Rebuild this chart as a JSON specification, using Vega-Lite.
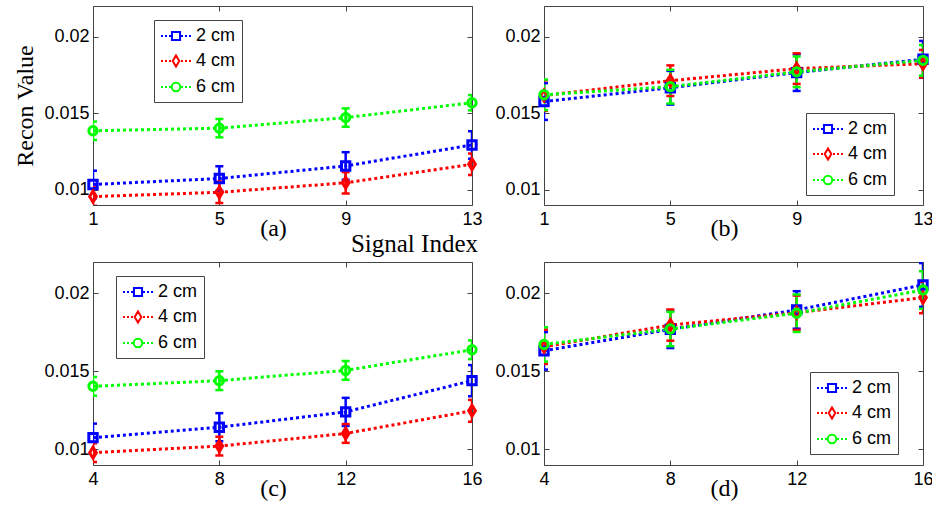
{
  "$schema": "https://vega.github.io/schema/vega-lite/v6.json",
  "padding": {"left": 13, "top": 5, "right": 0, "bottom": 0},
  "background": "white",
  "datasets": {
    "a": [
      {"x": 1, "series": "2 cm", "y": 0.01034, "lo": 0.00944, "hi": 0.01124},
      {"x": 5, "series": "2 cm", "y": 0.01073, "lo": 0.00993, "hi": 0.01153},
      {"x": 9, "series": "2 cm", "y": 0.01155, "lo": 0.01065, "hi": 0.01245},
      {"x": 13, "series": "2 cm", "y": 0.01292, "lo": 0.01202, "hi": 0.01382},
      {"x": 1, "series": "4 cm", "y": 0.00955, "lo": 0.00895, "hi": 0.01015},
      {"x": 5, "series": "4 cm", "y": 0.00983, "lo": 0.00913, "hi": 0.01053},
      {"x": 9, "series": "4 cm", "y": 0.01045, "lo": 0.00975, "hi": 0.01115},
      {"x": 13, "series": "4 cm", "y": 0.01166, "lo": 0.01096, "hi": 0.01236},
      {"x": 1, "series": "6 cm", "y": 0.01385, "lo": 0.01325, "hi": 0.01445},
      {"x": 5, "series": "6 cm", "y": 0.01402, "lo": 0.01342, "hi": 0.01462},
      {"x": 9, "series": "6 cm", "y": 0.01471, "lo": 0.01411, "hi": 0.01531},
      {"x": 13, "series": "6 cm", "y": 0.01568, "lo": 0.01518, "hi": 0.01618}
    ],
    "b": [
      {"x": 1, "series": "2 cm", "y": 0.01576, "lo": 0.01456, "hi": 0.01696},
      {"x": 5, "series": "2 cm", "y": 0.01666, "lo": 0.01556, "hi": 0.01776},
      {"x": 9, "series": "2 cm", "y": 0.01765, "lo": 0.01645, "hi": 0.01885},
      {"x": 13, "series": "2 cm", "y": 0.01852, "lo": 0.01732, "hi": 0.01972},
      {"x": 1, "series": "4 cm", "y": 0.01615, "lo": 0.01515, "hi": 0.01715},
      {"x": 5, "series": "4 cm", "y": 0.01712, "lo": 0.01612, "hi": 0.01812},
      {"x": 9, "series": "4 cm", "y": 0.01791, "lo": 0.01691, "hi": 0.01891},
      {"x": 13, "series": "4 cm", "y": 0.01823, "lo": 0.01733, "hi": 0.01913},
      {"x": 1, "series": "6 cm", "y": 0.0162, "lo": 0.0152, "hi": 0.0172},
      {"x": 5, "series": "6 cm", "y": 0.01673, "lo": 0.01563, "hi": 0.01783},
      {"x": 9, "series": "6 cm", "y": 0.0177, "lo": 0.0167, "hi": 0.0187},
      {"x": 13, "series": "6 cm", "y": 0.01845, "lo": 0.01745, "hi": 0.01945}
    ],
    "c": [
      {"x": 4, "series": "2 cm", "y": 0.01075, "lo": 0.00985, "hi": 0.01165},
      {"x": 8, "series": "2 cm", "y": 0.01142, "lo": 0.01052, "hi": 0.01232},
      {"x": 12, "series": "2 cm", "y": 0.0124, "lo": 0.0115, "hi": 0.0133},
      {"x": 16, "series": "2 cm", "y": 0.0144, "lo": 0.0134, "hi": 0.0154},
      {"x": 4, "series": "4 cm", "y": 0.00979, "lo": 0.00919, "hi": 0.01039},
      {"x": 8, "series": "4 cm", "y": 0.01021, "lo": 0.00961, "hi": 0.01081},
      {"x": 12, "series": "4 cm", "y": 0.01102, "lo": 0.01042, "hi": 0.01162},
      {"x": 16, "series": "4 cm", "y": 0.01247, "lo": 0.01177, "hi": 0.01317},
      {"x": 4, "series": "6 cm", "y": 0.01404, "lo": 0.01344, "hi": 0.01464},
      {"x": 8, "series": "6 cm", "y": 0.0144, "lo": 0.0138, "hi": 0.015},
      {"x": 12, "series": "6 cm", "y": 0.01506, "lo": 0.01446, "hi": 0.01566},
      {"x": 16, "series": "6 cm", "y": 0.01638, "lo": 0.01578, "hi": 0.01698}
    ],
    "d": [
      {"x": 4, "series": "2 cm", "y": 0.01631, "lo": 0.01511, "hi": 0.01751},
      {"x": 8, "series": "2 cm", "y": 0.01769, "lo": 0.01649, "hi": 0.01889},
      {"x": 12, "series": "2 cm", "y": 0.01893, "lo": 0.01773, "hi": 0.02013},
      {"x": 16, "series": "2 cm", "y": 0.02053, "lo": 0.01913, "hi": 0.02193},
      {"x": 4, "series": "4 cm", "y": 0.01657, "lo": 0.01547, "hi": 0.01767},
      {"x": 8, "series": "4 cm", "y": 0.01796, "lo": 0.01696, "hi": 0.01896},
      {"x": 12, "series": "4 cm", "y": 0.01875, "lo": 0.01765, "hi": 0.01985},
      {"x": 16, "series": "4 cm", "y": 0.01972, "lo": 0.01872, "hi": 0.02072},
      {"x": 4, "series": "6 cm", "y": 0.01672, "lo": 0.01562, "hi": 0.01782},
      {"x": 8, "series": "6 cm", "y": 0.01771, "lo": 0.01661, "hi": 0.01881},
      {"x": 12, "series": "6 cm", "y": 0.01872, "lo": 0.01752, "hi": 0.01992},
      {"x": 16, "series": "6 cm", "y": 0.02021, "lo": 0.01901, "hi": 0.02141}
    ]
  },
  "columns": 2,
  "bounds": "flush",
  "spacing": {"row": 57, "column": 72},
  "resolve": {"scale": {"color": "independent", "x": "independent", "y": "independent"}, "legend": {"color": "independent"}},
  "concat": [
    {
      "width": 379, "height": 199,
      "data": {"name": "a"},
      "title": {"text": "Signal Index", "orient": "bottom", "anchor": "end", "frame": "group", "font": "Liberation Serif", "fontSize": 25, "fontWeight": "normal", "color": "#000", "offset": -8, "dx": 6},
      "resolve": {"axis": {"x": "independent", "y": "independent"}},
      "encoding": {
        "x": {"field": "x", "type": "quantitative", "scale": {"domain": [1, 13], "nice": false, "zero": false}, "axis": null},
        "y": {"field": "y", "type": "quantitative", "scale": {"domain": [0.009, 0.022], "nice": false, "zero": false}, "axis": null},
        "color": {"field": "series", "type": "nominal", "scale": {"domain": ["2 cm", "4 cm", "6 cm"], "range": ["#0000ff", "#ff0000", "#00ff00"]},
          "legend": {"legendX": 61, "legendY": 14, "title": null,
            "encode": {"symbols": {"update": {
              "shape": {"signal": "datum.value === '2 cm' ? 'M-1.667,0H-1.444M-1.222,0H-1M-0.778,0H-0.556M0.556,0H0.778M1,0H1.222M1.444,0H1.667M-0.45,-0.45H0.45V0.45H-0.45Z' : datum.value === '4 cm' ? 'M-1.667,0H-1.444M-1.222,0H-1M-0.778,0H-0.556M0.556,0H0.778M1,0H1.222M1.444,0H1.667M0,-0.62L0.37,0L0,0.62L-0.37,0Z' : 'M-1.667,0H-1.444M-1.222,0H-1M-0.778,0H-0.556M0.556,0H0.778M1,0H1.222M1.444,0H1.667M0.47,0A0.47,0.47,0,1,1,-0.47,0A0.47,0.47,0,1,1,0.47,0Z'"},
              "fill": {"value": "transparent"}
            }}}}}
      },
      "layer": [
        {"mark": {"type": "rule", "strokeWidth": 2.5, "clip": true},
         "encoding": {
           "x": {"field": "x", "type": "quantitative", "axis": {"orient": "top", "values": [1, 5, 9, 13], "labels": false, "title": null}},
           "y": {"field": "lo", "type": "quantitative", "axis": {"orient": "right", "values": [0.01, 0.015, 0.02], "labels": false, "title": null}},
           "y2": {"field": "hi"}}},
        {"mark": {"type": "rule", "strokeWidth": 2.5, "xOffset": -4, "x2Offset": 4, "clip": true}, "encoding": {"x2": {"field": "x"}, "y": {"field": "lo", "type": "quantitative"}}},
        {"mark": {"type": "rule", "strokeWidth": 2.5, "xOffset": -4, "x2Offset": 4, "clip": true}, "encoding": {"x2": {"field": "x"}, "y": {"field": "hi", "type": "quantitative"}}},
        {"mark": {"type": "line", "strokeDash": [3, 3], "strokeWidth": 3},
         "encoding": {
           "x": {"field": "x", "type": "quantitative", "axis": {"orient": "bottom", "values": [1, 5, 9, 13], "format": "d", "labelFlush": false, "labelOverlap": false, "labelPadding": 10, "title": "(a)", "titleX": 180, "titleY": 11}},
           "y": {"field": "y", "type": "quantitative", "axis": {"orient": "left", "values": [0.01, 0.015, 0.02], "format": "~g", "labelPadding": 9, "title": "Recon Value", "titlePadding": 6}}}},
        {"transform": [{"filter": "datum.series === '2 cm'"}], "mark": {"type": "point", "shape": "square", "filled": false, "strokeWidth": 3, "size": 70, "opacity": 1}},
        {"transform": [{"filter": "datum.series === '4 cm'"}], "mark": {"type": "point", "shape": "M0,-1.3L0.8,0L0,1.3L-0.8,0Z", "filled": false, "strokeWidth": 3, "size": 70, "opacity": 1}},
        {"transform": [{"filter": "datum.series === '6 cm'"}], "mark": {"type": "point", "shape": "circle", "filled": false, "strokeWidth": 3, "size": 70, "opacity": 1}}
      ]
    },
    {
      "width": 379, "height": 199,
      "data": {"name": "b"},
      "resolve": {"axis": {"x": "independent", "y": "independent"}},
      "encoding": {
        "x": {"field": "x", "type": "quantitative", "scale": {"domain": [1, 13], "nice": false, "zero": false}, "axis": null},
        "y": {"field": "y", "type": "quantitative", "scale": {"domain": [0.009, 0.022], "nice": false, "zero": false}, "axis": null},
        "color": {"field": "series", "type": "nominal", "scale": {"domain": ["2 cm", "4 cm", "6 cm"], "range": ["#0000ff", "#ff0000", "#00ff00"]},
          "legend": {"legendX": 262, "legendY": 107, "title": null,
            "encode": {"symbols": {"update": {
              "shape": {"signal": "datum.value === '2 cm' ? 'M-1.667,0H-1.444M-1.222,0H-1M-0.778,0H-0.556M0.556,0H0.778M1,0H1.222M1.444,0H1.667M-0.45,-0.45H0.45V0.45H-0.45Z' : datum.value === '4 cm' ? 'M-1.667,0H-1.444M-1.222,0H-1M-0.778,0H-0.556M0.556,0H0.778M1,0H1.222M1.444,0H1.667M0,-0.62L0.37,0L0,0.62L-0.37,0Z' : 'M-1.667,0H-1.444M-1.222,0H-1M-0.778,0H-0.556M0.556,0H0.778M1,0H1.222M1.444,0H1.667M0.47,0A0.47,0.47,0,1,1,-0.47,0A0.47,0.47,0,1,1,0.47,0Z'"},
              "fill": {"value": "transparent"}
            }}}}}
      },
      "layer": [
        {"mark": {"type": "rule", "strokeWidth": 2.5, "clip": true},
         "encoding": {
           "x": {"field": "x", "type": "quantitative", "axis": {"orient": "top", "values": [1, 5, 9, 13], "labels": false, "title": null}},
           "y": {"field": "lo", "type": "quantitative", "axis": {"orient": "right", "values": [0.01, 0.015, 0.02], "labels": false, "title": null}},
           "y2": {"field": "hi"}}},
        {"mark": {"type": "rule", "strokeWidth": 2.5, "xOffset": -4, "x2Offset": 4, "clip": true}, "encoding": {"x2": {"field": "x"}, "y": {"field": "lo", "type": "quantitative"}}},
        {"mark": {"type": "rule", "strokeWidth": 2.5, "xOffset": -4, "x2Offset": 4, "clip": true}, "encoding": {"x2": {"field": "x"}, "y": {"field": "hi", "type": "quantitative"}}},
        {"mark": {"type": "line", "strokeDash": [3, 3], "strokeWidth": 3},
         "encoding": {
           "x": {"field": "x", "type": "quantitative", "axis": {"orient": "bottom", "values": [1, 5, 9, 13], "format": "d", "labelFlush": false, "labelOverlap": false, "labelPadding": 10, "title": "(b)", "titleX": 180, "titleY": 11}},
           "y": {"field": "y", "type": "quantitative", "axis": {"orient": "left", "values": [0.01, 0.015, 0.02], "format": "~g", "labelPadding": 9, "title": null}}}},
        {"transform": [{"filter": "datum.series === '2 cm'"}], "mark": {"type": "point", "shape": "square", "filled": false, "strokeWidth": 3, "size": 70, "opacity": 1}},
        {"transform": [{"filter": "datum.series === '4 cm'"}], "mark": {"type": "point", "shape": "M0,-1.3L0.8,0L0,1.3L-0.8,0Z", "filled": false, "strokeWidth": 3, "size": 70, "opacity": 1}},
        {"transform": [{"filter": "datum.series === '6 cm'"}], "mark": {"type": "point", "shape": "circle", "filled": false, "strokeWidth": 3, "size": 70, "opacity": 1}}
      ]
    },
    {
      "width": 379, "height": 203,
      "data": {"name": "c"},
      "resolve": {"axis": {"x": "independent", "y": "independent"}},
      "encoding": {
        "x": {"field": "x", "type": "quantitative", "scale": {"domain": [4, 16], "nice": false, "zero": false}, "axis": null},
        "y": {"field": "y", "type": "quantitative", "scale": {"domain": [0.009, 0.022], "nice": false, "zero": false}, "axis": null},
        "color": {"field": "series", "type": "nominal", "scale": {"domain": ["2 cm", "4 cm", "6 cm"], "range": ["#0000ff", "#ff0000", "#00ff00"]},
          "legend": {"legendX": 23, "legendY": 14, "title": null,
            "encode": {"symbols": {"update": {
              "shape": {"signal": "datum.value === '2 cm' ? 'M-1.667,0H-1.444M-1.222,0H-1M-0.778,0H-0.556M0.556,0H0.778M1,0H1.222M1.444,0H1.667M-0.45,-0.45H0.45V0.45H-0.45Z' : datum.value === '4 cm' ? 'M-1.667,0H-1.444M-1.222,0H-1M-0.778,0H-0.556M0.556,0H0.778M1,0H1.222M1.444,0H1.667M0,-0.62L0.37,0L0,0.62L-0.37,0Z' : 'M-1.667,0H-1.444M-1.222,0H-1M-0.778,0H-0.556M0.556,0H0.778M1,0H1.222M1.444,0H1.667M0.47,0A0.47,0.47,0,1,1,-0.47,0A0.47,0.47,0,1,1,0.47,0Z'"},
              "fill": {"value": "transparent"}
            }}}}}
      },
      "layer": [
        {"mark": {"type": "rule", "strokeWidth": 2.5, "clip": true},
         "encoding": {
           "x": {"field": "x", "type": "quantitative", "axis": {"orient": "top", "values": [4, 8, 12, 16], "labels": false, "title": null}},
           "y": {"field": "lo", "type": "quantitative", "axis": {"orient": "right", "values": [0.01, 0.015, 0.02], "labels": false, "title": null}},
           "y2": {"field": "hi"}}},
        {"mark": {"type": "rule", "strokeWidth": 2.5, "xOffset": -4, "x2Offset": 4, "clip": true}, "encoding": {"x2": {"field": "x"}, "y": {"field": "lo", "type": "quantitative"}}},
        {"mark": {"type": "rule", "strokeWidth": 2.5, "xOffset": -4, "x2Offset": 4, "clip": true}, "encoding": {"x2": {"field": "x"}, "y": {"field": "hi", "type": "quantitative"}}},
        {"mark": {"type": "line", "strokeDash": [3, 3], "strokeWidth": 3},
         "encoding": {
           "x": {"field": "x", "type": "quantitative", "axis": {"orient": "bottom", "values": [4, 8, 12, 16], "format": "d", "labelFlush": false, "labelOverlap": false, "labelPadding": 10, "title": "(c)", "titleX": 180, "titleY": 11}},
           "y": {"field": "y", "type": "quantitative", "axis": {"orient": "left", "values": [0.01, 0.015, 0.02], "format": "~g", "labelPadding": 9, "title": null}}}},
        {"transform": [{"filter": "datum.series === '2 cm'"}], "mark": {"type": "point", "shape": "square", "filled": false, "strokeWidth": 3, "size": 70, "opacity": 1}},
        {"transform": [{"filter": "datum.series === '4 cm'"}], "mark": {"type": "point", "shape": "M0,-1.3L0.8,0L0,1.3L-0.8,0Z", "filled": false, "strokeWidth": 3, "size": 70, "opacity": 1}},
        {"transform": [{"filter": "datum.series === '6 cm'"}], "mark": {"type": "point", "shape": "circle", "filled": false, "strokeWidth": 3, "size": 70, "opacity": 1}}
      ]
    },
    {
      "width": 379, "height": 203,
      "data": {"name": "d"},
      "resolve": {"axis": {"x": "independent", "y": "independent"}},
      "encoding": {
        "x": {"field": "x", "type": "quantitative", "scale": {"domain": [4, 16], "nice": false, "zero": false}, "axis": null},
        "y": {"field": "y", "type": "quantitative", "scale": {"domain": [0.009, 0.022], "nice": false, "zero": false}, "axis": null},
        "color": {"field": "series", "type": "nominal", "scale": {"domain": ["2 cm", "4 cm", "6 cm"], "range": ["#0000ff", "#ff0000", "#00ff00"]},
          "legend": {"legendX": 266, "legendY": 110, "title": null,
            "encode": {"symbols": {"update": {
              "shape": {"signal": "datum.value === '2 cm' ? 'M-1.667,0H-1.444M-1.222,0H-1M-0.778,0H-0.556M0.556,0H0.778M1,0H1.222M1.444,0H1.667M-0.45,-0.45H0.45V0.45H-0.45Z' : datum.value === '4 cm' ? 'M-1.667,0H-1.444M-1.222,0H-1M-0.778,0H-0.556M0.556,0H0.778M1,0H1.222M1.444,0H1.667M0,-0.62L0.37,0L0,0.62L-0.37,0Z' : 'M-1.667,0H-1.444M-1.222,0H-1M-0.778,0H-0.556M0.556,0H0.778M1,0H1.222M1.444,0H1.667M0.47,0A0.47,0.47,0,1,1,-0.47,0A0.47,0.47,0,1,1,0.47,0Z'"},
              "fill": {"value": "transparent"}
            }}}}}
      },
      "layer": [
        {"mark": {"type": "rule", "strokeWidth": 2.5, "clip": true},
         "encoding": {
           "x": {"field": "x", "type": "quantitative", "axis": {"orient": "top", "values": [4, 8, 12, 16], "labels": false, "title": null}},
           "y": {"field": "lo", "type": "quantitative", "axis": {"orient": "right", "values": [0.01, 0.015, 0.02], "labels": false, "title": null}},
           "y2": {"field": "hi"}}},
        {"mark": {"type": "rule", "strokeWidth": 2.5, "xOffset": -4, "x2Offset": 4, "clip": true}, "encoding": {"x2": {"field": "x"}, "y": {"field": "lo", "type": "quantitative"}}},
        {"mark": {"type": "rule", "strokeWidth": 2.5, "xOffset": -4, "x2Offset": 4, "clip": true}, "encoding": {"x2": {"field": "x"}, "y": {"field": "hi", "type": "quantitative"}}},
        {"mark": {"type": "line", "strokeDash": [3, 3], "strokeWidth": 3},
         "encoding": {
           "x": {"field": "x", "type": "quantitative", "axis": {"orient": "bottom", "values": [4, 8, 12, 16], "format": "d", "labelFlush": false, "labelOverlap": false, "labelPadding": 10, "title": "(d)", "titleX": 180, "titleY": 11}},
           "y": {"field": "y", "type": "quantitative", "axis": {"orient": "left", "values": [0.01, 0.015, 0.02], "format": "~g", "labelPadding": 9, "title": null}}}},
        {"transform": [{"filter": "datum.series === '2 cm'"}], "mark": {"type": "point", "shape": "square", "filled": false, "strokeWidth": 3, "size": 70, "opacity": 1}},
        {"transform": [{"filter": "datum.series === '4 cm'"}], "mark": {"type": "point", "shape": "M0,-1.3L0.8,0L0,1.3L-0.8,0Z", "filled": false, "strokeWidth": 3, "size": 70, "opacity": 1}},
        {"transform": [{"filter": "datum.series === '6 cm'"}], "mark": {"type": "point", "shape": "circle", "filled": false, "strokeWidth": 3, "size": 70, "opacity": 1}}
      ]
    }
  ],
  "config": {
    "view": {"stroke": "#444", "strokeWidth": 1},
    "axis": {"grid": false, "domain": false, "tickSize": -5, "tickColor": "#444", "tickWidth": 1, "labelFont": "Liberation Sans", "labelFontSize": 18, "labelColor": "#000", "titleFont": "Liberation Serif", "titleFontSize": 24, "titleFontWeight": "normal", "titleColor": "#000"},
    "legend": {"orient": "none", "strokeColor": "#444", "fillColor": "white", "padding": 6, "labelFont": "Liberation Sans", "labelFontSize": 18, "labelColor": "#000", "symbolSize": 324, "symbolOffset": 6, "rowPadding": 6, "labelOffset": 10, "symbolStrokeWidth": 2, "symbolFillColor": "transparent", "cornerRadius": 0}
  }
}
